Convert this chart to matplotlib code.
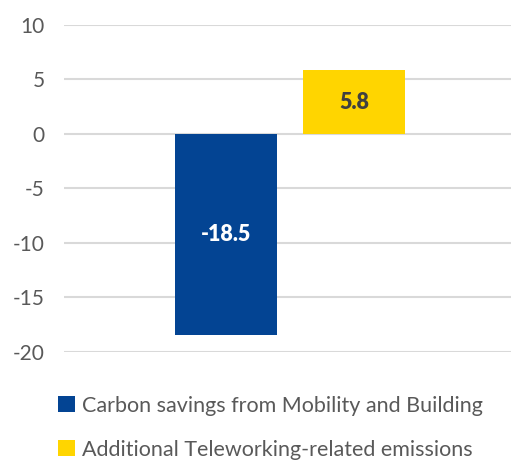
import matplotlib
matplotlib.use("Agg")
import matplotlib.pyplot as plt
from matplotlib.patches import Patch

plt.rcParams['font.family'] = ['Lato', 'DejaVu Sans']

series = ["Carbon savings from Mobility and Building",
          "Additional Teleworking-related emissions"]
values = [-18.5, 5.8]
colors = ["#034493", "#FFD500"]
label_colors = ["white", "#404040"]
yticks = [-20, -15, -10, -5, 0, 5, 10]

W, H = 511, 461
fig = plt.figure(figsize=(W / 100, H / 100), dpi=100)
ax = fig.add_axes([64 / W, 1 - 351.7 / H, (W - 64) / W, (351.7 - 24.7) / H])

centers = [0.3624, 0.6488]
width = 0.2282
bars = ax.bar(centers, values, width=width, color=colors, zorder=3)
for b, v, c in zip(bars, values, label_colors):
    ax.text(b.get_x() + b.get_width() / 2, v / 2, f"{v:.1f}",
            ha="center", va="center", color=c, fontsize=15.5,
            fontweight="heavy", zorder=4)

ax.set_xlim(0, 1)
ax.set_ylim(-20, 10)
ax.set_yticks(yticks)
ax.set_yticklabels([str(t) for t in yticks])
ax.yaxis.grid(True, color="#D9D9D9", linewidth=1.5, zorder=0)
ax.set_xticks([])
for s in ax.spines.values():
    s.set_visible(False)
ax.tick_params(axis="y", length=0, pad=14, labelsize=15, labelcolor="#595959")
for lbl in ax.get_yticklabels():
    lbl.set_horizontalalignment("right")

handles = [Patch(facecolor=c, edgecolor="none") for c in colors]
fig.legend(handles, series, loc="upper left",
           bbox_to_anchor=(49 / W, 1 - 387 / H), frameon=False,
           fontsize=15.5, labelcolor="#595959", handlelength=0.8,
           handleheight=0.8, handletextpad=0.35, labelspacing=1.12,
           borderaxespad=0)

fig.savefig("out.png", dpi=100)
